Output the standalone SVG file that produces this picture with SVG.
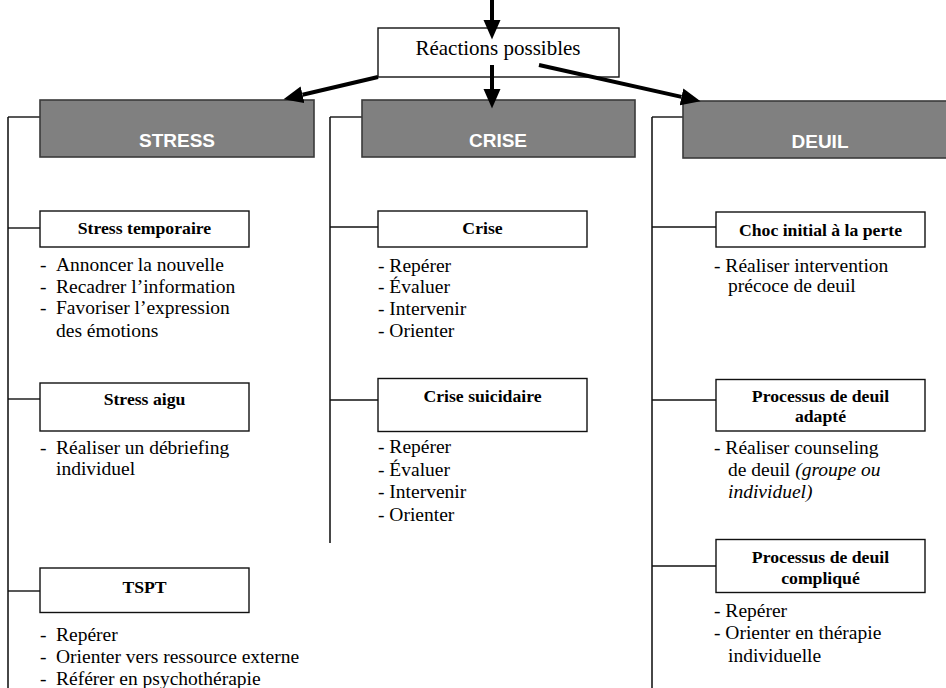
<svg xmlns="http://www.w3.org/2000/svg" width="946" height="688" viewBox="0 0 946 688">
<defs>
<marker id="ah" markerUnits="userSpaceOnUse" markerWidth="20" markerHeight="18" refX="0" refY="8.5" orient="auto" viewBox="0 0 20 17">
<path d="M0,0 L19.5,8.5 L0,17 z" fill="#000"/>
</marker>
<style>
.bg{fill:#fff}
.cat{fill:#808080;stroke:#3a3a3a;stroke-width:1.6}
.cat-t{font-family:"Liberation Sans",Arial,sans-serif;font-weight:bold;font-size:19px;fill:#fff;text-anchor:middle}
.box{fill:#fff;stroke:#111;stroke-width:1.4}
.ttl{font-family:"Liberation Serif","Times New Roman",serif;font-weight:bold;font-size:17.7px;fill:#000;text-anchor:middle}
.lst{font-family:"Liberation Serif","Times New Roman",serif;font-size:19.5px;fill:#000}
.top{font-family:"Liberation Serif","Times New Roman",serif;font-size:21px;fill:#000;text-anchor:middle}
.arr{stroke:#000;stroke-width:4;fill:none}
.ln{stroke:#111;stroke-width:1.4;fill:none}
.vl{stroke:#333;stroke-width:1.8;fill:none}
</style>
</defs>
<rect class="bg" x="0" y="0" width="946" height="688"/>

<g id="connectors">
<line class="vl" x1="8" y1="117" x2="8" y2="688"/>
<line class="ln" x1="8" y1="117" x2="40" y2="117"/>
<line class="ln" x1="8" y1="228" x2="40" y2="228"/>
<line class="ln" x1="8" y1="399" x2="40" y2="399"/>
<line class="ln" x1="8" y1="591" x2="40" y2="591"/>
<line class="vl" x1="330" y1="117" x2="330" y2="543"/>
<line class="ln" x1="330" y1="117" x2="362" y2="117"/>
<line class="ln" x1="330" y1="227" x2="378" y2="227"/>
<line class="ln" x1="330" y1="400" x2="378" y2="400"/>
<line class="vl" x1="652" y1="117" x2="652" y2="688"/>
<line class="ln" x1="652" y1="117" x2="683" y2="117"/>
<line class="ln" x1="652" y1="227" x2="716" y2="227"/>
<line class="ln" x1="652" y1="400" x2="716" y2="400"/>
<line class="ln" x1="652" y1="566" x2="716" y2="566"/>
</g>

<g id="reactions">
<rect class="box" x="378" y="28" width="241" height="49" stroke-width="1.2"/>
<text class="top" x="498" y="55">Réactions possibles</text>
</g>

<g id="stress">
<rect class="cat" x="40" y="100" width="274" height="57"/>
<text class="cat-t" x="177" y="147">STRESS</text>
</g>
<g id="crise">
<rect class="cat" x="362" y="100" width="273" height="57"/>
<text class="cat-t" x="498" y="147">CRISE</text>
</g>
<g id="deuil">
<rect class="cat" x="683" y="101" width="274" height="57"/>
<text class="cat-t" x="820" y="148">DEUIL</text>
</g>

<g id="stress-temporaire">
<rect class="box" x="40" y="211" width="209" height="36"/>
<text class="ttl" x="144.5" y="234">Stress temporaire</text>
<text class="lst" x="40" y="271">-</text><text class="lst" x="56" y="271">Annoncer la nouvelle</text>
<text class="lst" x="40" y="292.7">-</text><text class="lst" x="56" y="292.7">Recadrer l’information</text>
<text class="lst" x="40" y="314.4">-</text><text class="lst" x="56" y="314.4">Favoriser l’expression</text>
<text class="lst" x="56" y="336.5">des émotions</text>
</g>

<g id="stress-aigu">
<rect class="box" x="40" y="383" width="209" height="48"/>
<text class="ttl" x="144.5" y="405">Stress aigu</text>
<text class="lst" x="40" y="453.5">-</text><text class="lst" x="56" y="453.5">Réaliser un débriefing</text>
<text class="lst" x="56" y="475">individuel</text>
</g>

<g id="tspt">
<rect class="box" x="40" y="568" width="209" height="44.5"/>
<text class="ttl" x="144.5" y="592.5">TSPT</text>
<text class="lst" x="40" y="640.5">-</text><text class="lst" x="56" y="640.5">Repérer</text>
<text class="lst" x="40" y="662.7">-</text><text class="lst" x="56" y="662.7">Orienter vers ressource externe</text>
<text class="lst" x="40" y="685">-</text><text class="lst" x="56" y="685">Référer en psychothérapie</text>
</g>

<g id="crise-box">
<rect class="box" x="378" y="211" width="209" height="36"/>
<text class="ttl" x="482.5" y="234">Crise</text>
<text class="lst" x="378" y="271.5">- Repérer</text>
<text class="lst" x="378" y="292.7">- Évaluer</text>
<text class="lst" x="378" y="315">- Intervenir</text>
<text class="lst" x="378" y="336.7">- Orienter</text>
</g>

<g id="crise-suicidaire">
<rect class="box" x="378" y="378.5" width="209" height="53"/>
<text class="ttl" x="482.5" y="401.7">Crise suicidaire</text>
<text class="lst" x="378" y="453.3">- Repérer</text>
<text class="lst" x="378" y="475.7">- Évaluer</text>
<text class="lst" x="378" y="497.7">- Intervenir</text>
<text class="lst" x="378" y="520.5">- Orienter</text>
</g>

<g id="choc-initial">
<rect class="box" x="716" y="212" width="209" height="35"/>
<text class="ttl" x="820.5" y="236">Choc initial à la perte</text>
<text class="lst" x="714" y="271.5">- Réaliser intervention</text>
<text class="lst" x="728" y="292">précoce de deuil</text>
</g>

<g id="deuil-adapte">
<rect class="box" x="716" y="379.5" width="209" height="51.5"/>
<text class="ttl" x="820.5" y="401.5">Processus de deuil</text>
<text class="ttl" x="820.5" y="421.5">adapté</text>
<text class="lst" x="714" y="454">- Réaliser counseling</text>
<text class="lst" x="728" y="476">de deuil <tspan font-style="italic">(groupe ou</tspan></text>
<text class="lst" x="728" y="497.5" font-style="italic">individuel)</text>
</g>

<g id="deuil-complique">
<rect class="box" x="716" y="539.5" width="209" height="53"/>
<text class="ttl" x="820.5" y="563">Processus de deuil</text>
<text class="ttl" x="820.5" y="584">compliqué</text>
<text class="lst" x="714" y="616.5">- Repérer</text>
<text class="lst" x="714" y="639">- Orienter en thérapie</text>
<text class="lst" x="728" y="661.5">individuelle</text>
</g>

<g id="arrows">
<line class="arr" x1="492" y1="0" x2="492" y2="20" marker-end="url(#ah)"/>
<line class="arr" x1="492" y1="65" x2="492" y2="89" marker-end="url(#ah)"/>
<line class="arr" x1="378" y1="77" x2="302.5" y2="94.7" marker-end="url(#ah)"/>
<line class="arr" x1="539" y1="65" x2="681.5" y2="96.9" marker-end="url(#ah)"/>
</g>
</svg>
